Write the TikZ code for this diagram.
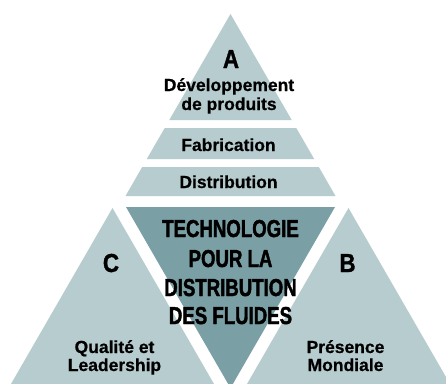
\documentclass[tikz,border=0pt]{standalone}
\usepackage{fontspec}
\setmainfont{Liberation Sans}
\newfontfamily\labelfont[UprightFont=* Bold,FakeBold=0.6]{Liberation Sans}
\newfontfamily\condfont[UprightFont=* Bold,FakeStretch=0.76,FakeBold=1.6]{Liberation Sans}
\newfontfamily\letterfont[UprightFont=* Bold,FakeStretch=0.86,FakeBold=1.2]{Liberation Sans}
\definecolor{facelight}{RGB}{183,204,207}
\definecolor{facedark}{RGB}{122,159,165}
\begin{document}
\begin{tikzpicture}[x=1pt,y=-1pt]
      % Define styles for nodes
      \tikzstyle{label} = [anchor=base,inner sep=0pt,font=\fontsize{17.5}{19}\labelfont]
      \tikzstyle{title} = [anchor=base,inner sep=0pt,font=\fontsize{24.5}{29}\condfont]
      \tikzstyle{letter} = [anchor=base,inner sep=0pt,font=\fontsize{26}{30}\letterfont]

      % Page
      \fill[white] (0,0) rectangle (446,383);
      \clip (0,0) rectangle (446,383);

      % Top triangle and its bands
      \fill[facelight] (230.5,14) -- (291.7,120) -- (169.3,120) -- cycle;
      \fill[facelight] (164.7,128) -- (296.3,128) -- (314.2,159) -- (146.8,159) -- cycle;
      \fill[facelight] (142.2,167) -- (318.8,167) -- (335.5,196) -- (125.5,196) -- cycle;

      % Middle (upside down) triangle
      \fill[facedark] (126,207) -- (335,207) -- (230.5,388) -- cycle;

      % Corner triangles
      \fill[facelight] (112.5,208) -- (217.5,390) -- (7.5,390) -- cycle;
      \fill[facelight] (348.5,208) -- (453.5,390) -- (243.5,390) -- cycle;

      % Texts at top
      \node[letter] (a) at (231,68) {A};
      \node[label] (dev) at (229,91) {Développement};
      \node[label] (prod) at (229,110) {de produits};
      \node[label] (fab) at (228.5,151) {Fabrication};
      \node[label] (dist) at (228.5,188) {Distribution};

      % Texts in the middle
      \node[title] (tech) at (230.5,237) {TECHNOLOGIE};
      \node[title] (pour) at (230.5,267) {POUR LA};
      \node[title] (distr) at (230.5,296) {DISTRIBUTION};
      \node[title] (fluid) at (230.5,324) {DES FLUIDES};

      % Texts at the corners
      \node[letter] (c) at (111,272) {C};
      \node[label] (qual) at (114.5,353) {Qualité et};
      \node[label] (lead) at (114.5,371) {Leadership};
      \node[letter] (b) at (347.5,272) {B};
      \node[label] (pres) at (345.5,353) {Présence};
      \node[label] (mond) at (345.5,371) {Mondiale};
    \end{tikzpicture}
\end{document}
